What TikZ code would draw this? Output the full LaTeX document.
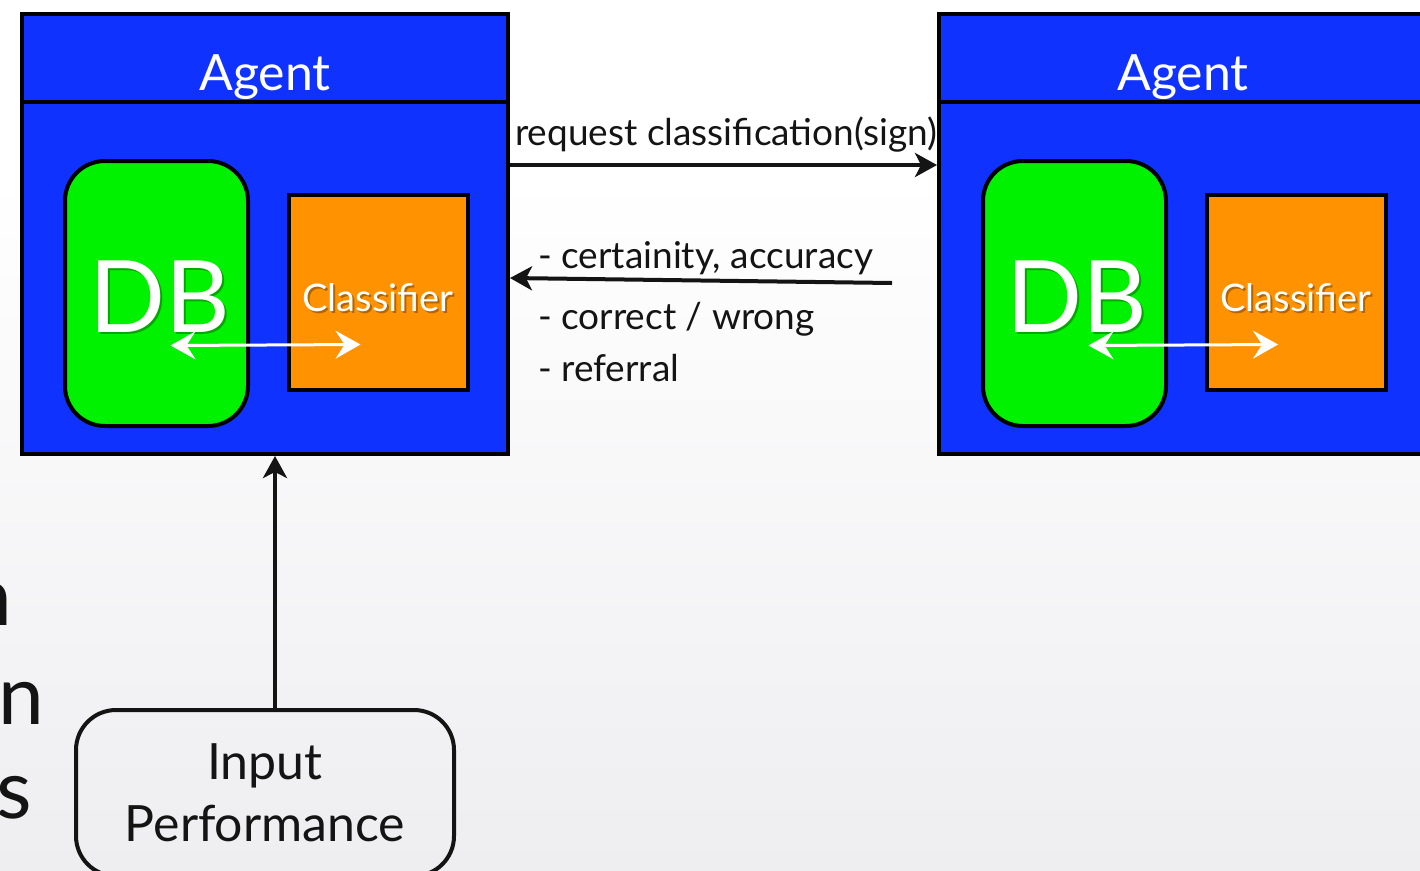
\documentclass[tikz,border=0pt]{standalone}
\usepackage{fontspec}
\setmainfont{Lato}
\usetikzlibrary{arrows.meta}

\definecolor{agentblue}{RGB}{16,50,255}
\definecolor{dbgreen}{RGB}{0,242,0}
\definecolor{clsorange}{RGB}{255,146,0}
\definecolor{slidegray}{RGB}{238,238,241}
\definecolor{inkdark}{RGB}{20,20,20}

\tikzset{
  agentbox/.style={draw,line width=4pt,fill=agentblue,minimum width=486pt,minimum height=440pt,inner sep=0pt},
  agenttitle/.style={text=white,font=\fontsize{50}{60}\selectfont,anchor=base,inner sep=0pt},
  dbbox/.style={draw,line width=4pt,fill=dbgreen,rounded corners=40pt,minimum width=183pt,minimum height=265pt,inner sep=0pt},
  clsbox/.style={draw,line width=4pt,fill=clsorange,minimum width=179pt,minimum height=195pt,inner sep=0pt},
  dbtext/.style={text=white,font=\fontsize{100}{110}\selectfont,anchor=base,inner sep=0pt},
  clstext/.style={text=white,font=\fontsize{38}{46}\selectfont,anchor=base,inner sep=0pt},
  glow/.style={text=black,opacity=.3},
  swap/.style={white,line width=3pt,{Stealth[length=25pt,width=28pt,inset=9pt]}-{Stealth[length=25pt,width=28pt,inset=9pt]}},
  link/.style={inkdark,line width=4pt,-{Stealth[length=22pt,width=24pt,inset=6pt]}},
  msg/.style={text=inkdark,font=\fontsize{37}{44}\selectfont,anchor=base west,inner sep=0pt},
  inbox/.style={draw=inkdark,line width=4pt,rounded corners=40pt,minimum width=378pt,minimum height=166pt,
    align=center,text=inkdark,font=\fontsize{50}{62}\selectfont},
  cutword/.style={text=inkdark,font=\fontsize{82}{90}\selectfont,anchor=base east,inner sep=0pt}
}

\begin{document}
\begin{tikzpicture}[x=1pt,y=-1pt]
\useasboundingbox (0,0) rectangle (1420,870);
\clip (0,0) rectangle (1420,870);

% slide background
\fill[white] (0,0) rectangle (1420,176);
\shade[top color=white,bottom color=slidegray] (0,175) rectangle (1420,870);

% left-over words of the slide text
\node[cutword] (w1) at (12,625) {n};
\node[cutword] (w2) at (44,724) {n};
\node[cutword] (w3) at (32,818) {s};

% left agent
\node[agentbox] (agL) at (265,234) {};
\draw[line width=4pt] ([yshift=-90pt]agL.north west) -- ([yshift=-90pt]agL.north east);
\node[agenttitle] (tL) at (265,90) {Agent};
\node[dbbox] (dbL) at (156.5,293.5) {};
\node[clsbox] (clsL) at (378.5,292.5) {};
\node[dbtext,glow] at (162,334) {DB};
\node[dbtext] (dbtL) at (160,332) {DB};
\node[clstext,glow] at (380,313) {Classifier};
\node[clstext] (clstL) at (378,311) {Classifier};
\draw[swap] ([shift={(14,52)}]dbL.center) -- ([shift={(-18,52)}]clsL.center);

% right agent
\node[agentbox] (agR) at (1182,234) {};
\draw[line width=4pt] ([yshift=-90pt]agR.north west) -- ([yshift=-90pt]agR.north east);
\node[agenttitle] (tR) at (1183,90) {Agent};
\node[dbbox] (dbR) at (1074.5,293.5) {};
\node[clsbox] (clsR) at (1296,292.5) {};
\node[dbtext,glow] at (1079,334) {DB};
\node[dbtext] (dbtR) at (1077,332) {DB};
\node[clstext,glow] at (1298,313) {Classifier};
\node[clstext] (clstR) at (1296,311) {Classifier};
\draw[swap] ([shift={(14,52)}]dbR.center) -- ([shift={(-18,52)}]clsR.center);

% messages between the agents
\coordinate (rq) at (0,165);
\coordinate (ans) at (892,283);
\coordinate (ansend) at (0,278);
\draw[link] (agL.east |- rq) -- (agR.west |- rq);
\draw[link] (ans) -- (agL.east |- ansend);
\node[msg] (req) at (515,145) {request classification(sign)};
\node[msg] (m1) at (538,268) {- certainity, accuracy};
\node[msg] (m2) at (538,329) {- correct / wrong};
\node[msg] (m3) at (538,381) {- referral};

% input
\node[inbox] (inp) at (265,793) {Input\\Performance};
\coordinate (up) at (275,0);
\draw[link] (inp.north -| up) -- (agL.south -| up);
\end{tikzpicture}
\end{document}
